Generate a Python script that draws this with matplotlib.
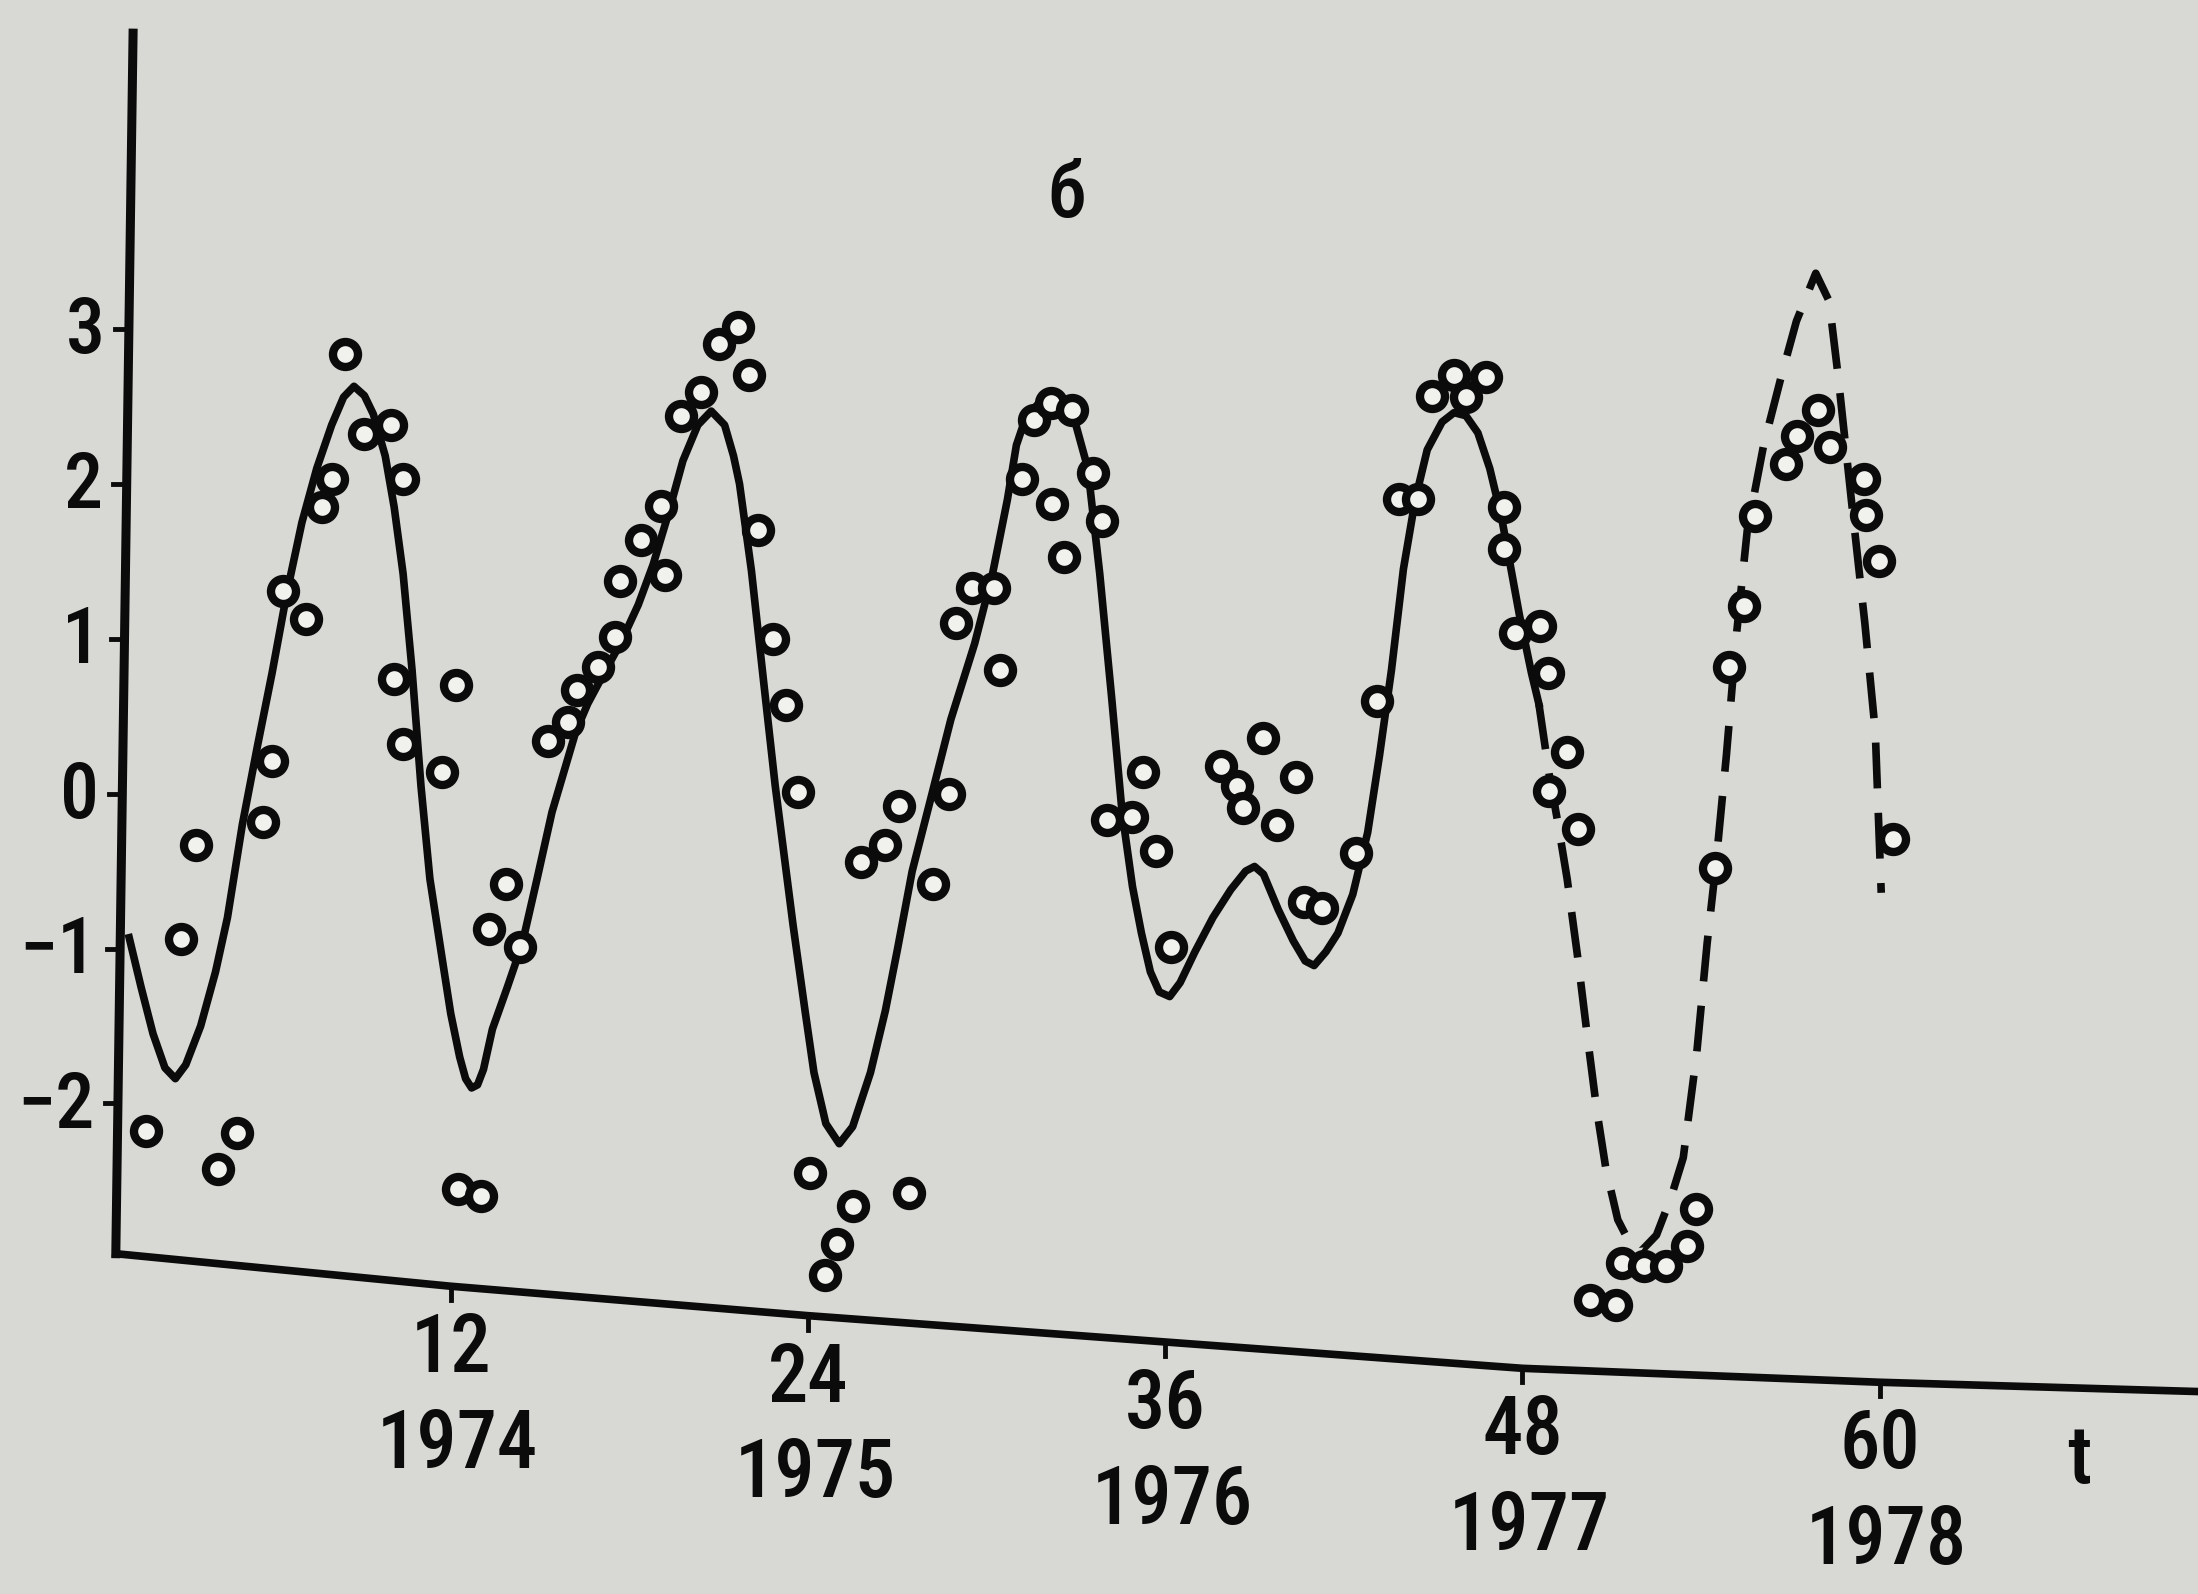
import numpy as np
import matplotlib.pyplot as plt
from matplotlib import font_manager

# Шрифт: на рисунке узкий чертёжный шрифт, берём узкий, если он есть
installed = {f.name for f in font_manager.fontManager.ttflist}
FONT = 'DejaVu Sans'
STRETCH = 'normal'
for name in ['Liberation Sans Narrow', 'Roboto Condensed', 'Open Sans Condensed']:
    if name in installed:
        FONT = name
        break
else:
    if any(f.name == 'DejaVu Sans' and f.stretch == 'condensed'
           for f in font_manager.fontManager.ttflist):
        STRETCH = 'condensed'
plt.rcParams['font.family'] = [FONT, 'DejaVu Sans']
plt.rcParams['font.stretch'] = STRETCH
plt.rcParams['font.weight'] = 'medium'

# Наблюдения (кружки): месяц t и значение
obs_t = [1.77, 2.93, 3.46, 4.19, 4.82, 5.71, 5.98, 6.38, 7.14, 7.67, 8.01, 8.46,
         9.10, 10.0, 10.4, 10.1, 10.38, 11.69, 12.18, 12.26, 13.02, 13.28, 13.86, 14.32,
         15.28, 15.94, 16.25, 16.94, 17.53, 17.67, 18.4, 19.2, 19.06, 19.72, 20.42, 21.02,
         21.66, 22.02, 22.32, 22.81, 23.25, 23.65, 24.07, 24.58, 24.96, 25.5, 25.78, 26.6,
         27.06, 27.4, 28.19, 28.73, 28.96, 29.52, 30.25, 30.45, 31.2, 31.6, 32.15, 32.2,
         32.6, 32.87, 33.58, 33.87, 34.06, 34.9, 35.24, 35.68, 36.18, 37.86, 38.4, 38.6,
         39.3, 39.75, 40.38, 40.65, 41.28, 42.4, 43.12, 43.84, 44.5, 44.95, 45.7, 46.1,
         46.76, 47.37, 47.38, 47.75, 48.6, 48.85, 48.9, 49.5, 49.86, 50.28, 51.13, 51.35,
         52.08, 52.83, 53.53, 53.82, 54.45, 54.95, 55.44, 55.8, 56.85, 57.21, 57.91, 58.34,
         59.47, 59.54, 59.96, 60.46]
obs_v = [-2.18, -0.94, -0.33, -2.42, -2.19, -0.18, 0.21, 1.31, 1.13, 1.85, 2.03, 2.84,
         2.32, 2.38, 2.03, 0.74, 0.32, 0.14, 0.70, -2.55, -2.60, -0.875, -0.58, -0.99,
         0.34, 0.46, 0.67, 0.82, 1.01, 1.37, 1.64, 1.41, 1.86, 2.44, 2.59, 2.90,
         3.01, 2.70, 1.70, 1.00, 0.57, 0.01, -2.45, -3.11, -2.91, -2.66, -0.44, -0.33,
         -0.08, -2.58, -0.58, 0.0, 1.10, 1.33, 1.33, 0.80, 2.03, 2.41, 2.52, 1.87,
         1.53, 2.48, 2.07, 1.76, -0.17, -0.15, 0.14, -0.37, -0.99, 0.18, 0.05, -0.09,
         0.36, -0.20, 0.11, -0.70, -0.74, -0.38, 0.60, 1.90, 1.90, 2.57, 2.70, 2.56,
         2.69, 1.85, 1.58, 1.04, 1.08, 0.78, 0.02, 0.27, -0.23, -3.27, -3.30, -3.03,
         -3.05, -3.05, -2.92, -2.68, -0.48, 0.82, 1.21, 1.79, 2.13, 2.31, 2.48, 2.24,
         2.03, 1.80, 1.50, -0.29]

# Модель (сплошная линия)
fit_t = [1.2, 1.6, 2.0, 2.4, 2.75, 3.1, 3.6, 4.1, 4.5, 5.0, 5.5, 6.0, 6.5, 7.0, 7.5,
         8.0, 8.4, 8.75, 9.1, 9.4, 9.8, 10.1, 10.4, 10.7, 11.0, 11.3, 11.7, 12.0, 12.3,
         12.5, 12.7, 12.9, 13.1, 13.4, 13.9, 14.4, 14.9, 15.4, 15.8, 16.2, 16.6, 17.1,
         17.7, 18.3, 18.8, 19.3, 19.8, 20.3, 20.75, 21.2, 21.5, 21.7, 22.1, 22.5, 22.9,
         23.5, 23.9, 24.2, 24.6, 25.05, 25.5, 26.1, 26.6, 27.0, 27.5, 28.1, 28.8, 29.6,
         30.2, 30.7, 31.0, 31.3, 31.7, 32.1, 32.7, 33.0, 33.4, 33.8, 34.2, 34.55, 34.9,
         35.2, 35.5, 35.8, 36.15, 36.5, 37.0, 37.6, 38.2, 38.7, 39.0, 39.3, 39.8, 40.3,
         40.7, 41.0, 41.4, 41.8, 42.3, 42.8, 43.2, 43.6, 44.0, 44.4, 44.8, 45.3, 45.7,
         46.1, 46.5, 46.9, 47.3, 47.9, 48.3, 48.55]
fit_v = [-0.93, -1.25, -1.55, -1.77, -1.84, -1.75, -1.50, -1.15, -0.80, -0.20, 0.30, 0.78,
         1.30, 1.75, 2.10, 2.38, 2.56, 2.63, 2.57, 2.45, 2.18, 1.85, 1.42, 0.80, 0.05,
         -0.55, -1.05, -1.42, -1.70, -1.84, -1.90, -1.88, -1.78, -1.52, -1.25, -0.97,
         -0.55, -0.12, 0.14, 0.40, 0.58, 0.76, 0.97, 1.22, 1.48, 1.80, 2.15, 2.38, 2.47,
         2.38, 2.18, 2.00, 1.44, 0.74, 0.05, -0.85, -1.40, -1.80, -2.13, -2.26, -2.15,
         -1.80, -1.40, -1.01, -0.50, -0.05, 0.48, 0.97, 1.42, 1.90, 2.25, 2.42, 2.51, 2.54,
         2.50, 2.38, 2.10, 1.42, 0.62, -0.12, -0.60, -0.90, -1.15, -1.28, -1.31, -1.22,
         -1.02, -0.80, -0.62, -0.50, -0.47, -0.52, -0.75, -0.95, -1.08, -1.11, -1.02, -0.90,
         -0.65, -0.25, 0.25, 0.80, 1.45, 1.90, 2.22, 2.40, 2.46, 2.44, 2.33, 2.10, 1.78,
         1.15, 0.78, 0.58]

# Прогноз (штриховая линия)
fcst_t = [48.55, 48.9, 49.2, 49.5, 49.85, 50.2, 50.5, 50.8, 51.2, 51.6, 52.0, 52.5, 53.0,
          53.4, 53.85, 54.2, 54.5, 54.85, 55.2, 55.55, 56.1, 56.7, 57.2, 57.85, 58.3,
          58.6, 59.1, 59.5, 59.85, 60.05]
fcst_v = [0.58, 0.12, -0.20, -0.55, -1.05, -1.60, -2.05, -2.42, -2.75, -2.90, -2.95, -2.85,
          -2.60, -2.35, -1.68, -0.97, -0.45, 0.25, 1.05, 1.70, 2.25, 2.70, 3.05, 3.36, 3.18,
          2.70, 1.80, 1.10, 0.40, -0.64]

# Подписи осей
x_ticks = [12, 24, 36, 48, 60]
x_years = ['1974', '1975', '1976', '1977', '1978']
y_ticks = [-2, -1, 0, 1, 2, 3]

# Оси на фотографии перекошены: нижняя ось идёт вниз вправо
BASE_T = [0.75, 12, 24, 36, 48, 60, 70.7]
BASE_V = [-2.97, -3.18, -3.37, -3.54, -3.71, -3.80, -3.86]
YAXIS_T = [0.75, 1.33]
YAXIS_V = [-2.97, 4.91]

PAPER = '#d8d9d4'
INK = '#0b0b0b'

fig = plt.figure(figsize=(21.98, 15.94), dpi=100, facecolor=PAPER)
ax = fig.add_axes([0, 0, 1, 1])
ax.set_facecolor(PAPER)
ax.set_xlim(-3.14, 70.69)
ax.set_ylim(-5.167, 5.124)
ax.axis('off')

# оси
ax.plot(YAXIS_T, YAXIS_V, color=INK, lw=6.5, solid_capstyle='projecting', zorder=2)
ax.plot(BASE_T, BASE_V, color=INK, lw=5.5, solid_capstyle='projecting', zorder=2)

for v in y_ticks:
    ta = np.interp(v, YAXIS_V, YAXIS_T)
    ax.plot([ta - 0.45, ta], [v, v], color=INK, lw=3.5, zorder=2)
    lbl = str(v).replace('-', '\u2212')
    ax.annotate(lbl, xy=(ta, v), xytext=(-17, -2), textcoords='offset points',
                ha='right', va='center', fontsize=56, color=INK)

for t, year in zip(x_ticks, x_years):
    vb = np.interp(t, BASE_T, BASE_V)
    ax.plot([t, t], [vb, vb - 0.09], color=INK, lw=3.5, zorder=2)
    ax.annotate(str(t), xy=(t, vb), xytext=(0, -46), textcoords='offset points',
                ha='center', va='center', fontsize=58, color=INK)
    ax.annotate(year, xy=(t, vb), xytext=(5, -115), textcoords='offset points',
                ha='center', va='center', fontsize=58, color=INK)

ax.text(66.7, -4.31, 't', fontsize=58, ha='center', va='center', color=INK)
ax.text(32.7, 3.86, 'б', fontsize=56, ha='center', va='center', color=INK)

# линии модели и прогноза
ax.plot(fit_t, fit_v, color=INK, lw=5.5, solid_joinstyle='round', zorder=3)
ax.plot(fcst_t, fcst_v, color=INK, lw=5.5, dashes=(6, 3.2), zorder=3)

# наблюдения
ax.plot(obs_t, obs_v, 'o', ms=18, mew=6, mec=INK, mfc='#f1f2ee', zorder=4)

fig.savefig('out.png', dpi=100, facecolor=PAPER)
